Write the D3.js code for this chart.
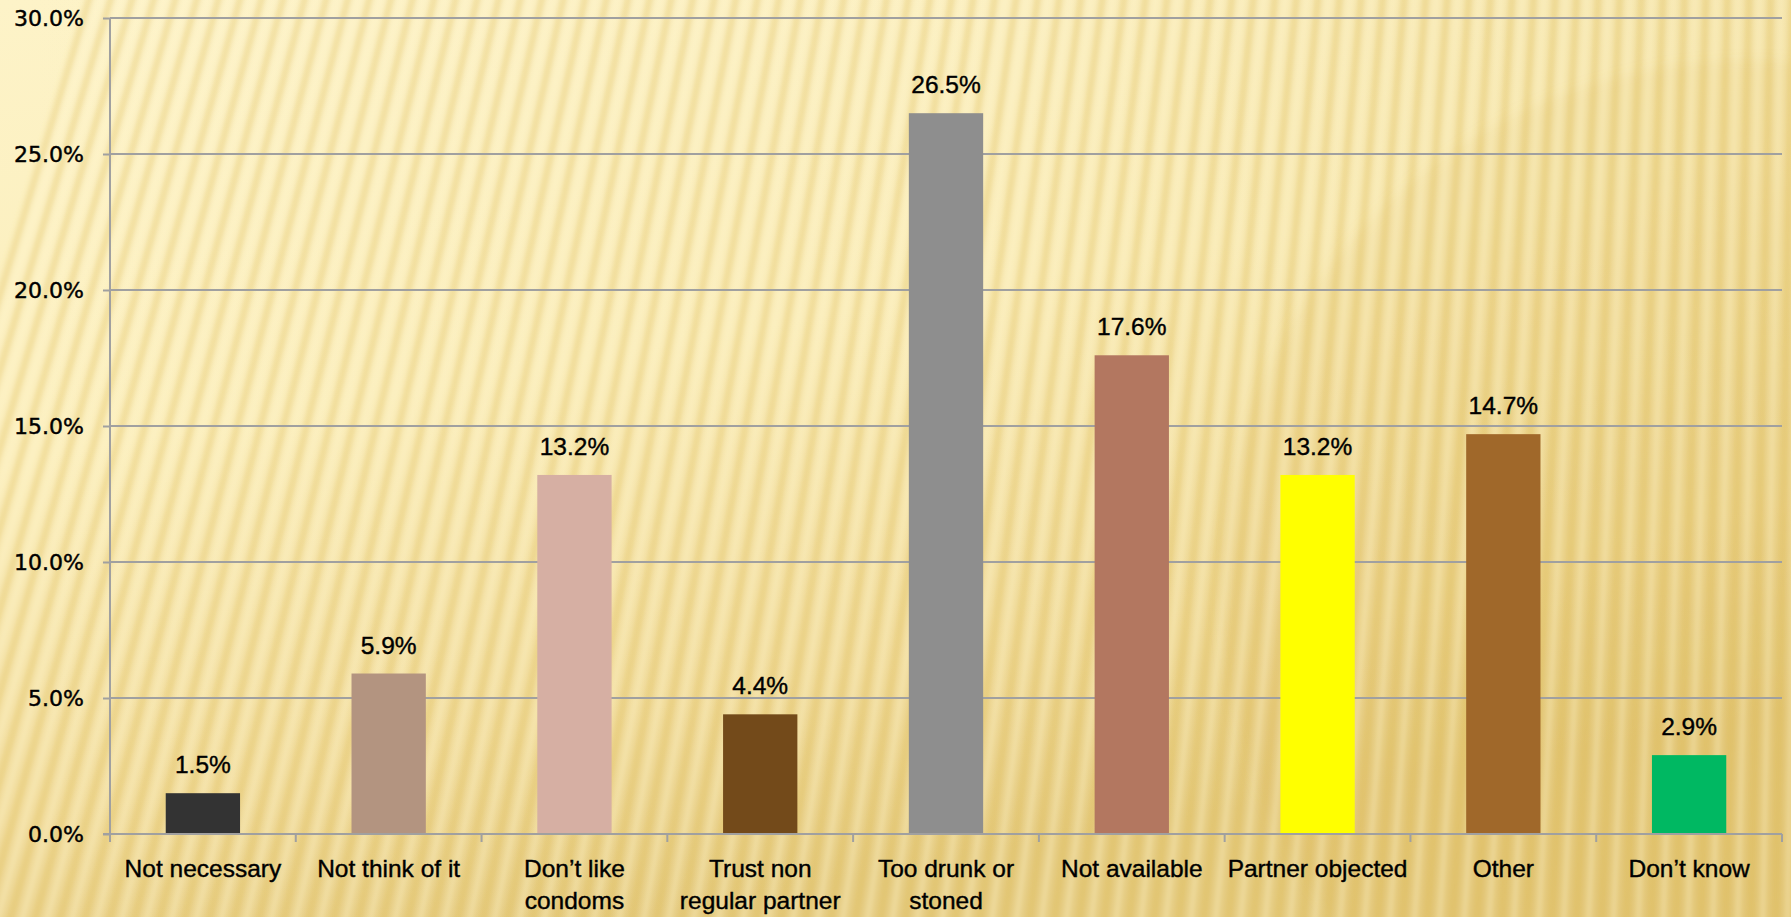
<!DOCTYPE html>
<html>
<head>
<meta charset="utf-8">
<script src="https://cdn.jsdelivr.net/npm/d3@7"></script>
<style>
  html, body { margin: 0; padding: 0; overflow: hidden; background: #f8e9b0; }
  svg { display: block; }
</style>
</head>
<body>
<svg id="chart" width="1791" height="917"></svg>
<script>
// ---- data ----
const categories = [
  "Not necessary",
  "Not think of it",
  "Don\u2019t like\ncondoms",
  "Trust non\nregular partner",
  "Too drunk or\nstoned",
  "Not available",
  "Partner objected",
  "Other",
  "Don\u2019t know"
];
const values = [0.015, 0.059, 0.132, 0.044, 0.265, 0.176, 0.132, 0.147, 0.029];
const barColors = ["#333333", "#b39480", "#d6afa3", "#734a1a", "#8e8e8e", "#b37760", "#ffff00", "#a0682a", "#00b862"];
const yTicks = [0, 0.05, 0.10, 0.15, 0.20, 0.25, 0.30];

// ---- layout ----
const W = 1791, H = 917;
const margin = { left: 110, right: 9, top: 18, bottom: 83 };
const svg = d3.select("#chart");
const defs = svg.append("defs");

// background gradient
const bg = defs.append("linearGradient").attr("id", "bg")
  .attr("x1", "0").attr("y1", "0").attr("x2", "0.35").attr("y2", "1");
bg.append("stop").attr("offset", "0").attr("stop-color", "#fdf3c8");
bg.append("stop").attr("offset", "0.45").attr("stop-color", "#fbeebb");
bg.append("stop").attr("offset", "0.8").attr("stop-color", "#f1dc9c");
bg.append("stop").attr("offset", "1").attr("stop-color", "#e6cd84");
svg.append("rect").attr("width", W).attr("height", H).attr("fill", "url(#bg)");

// right side darkening
const rg = defs.append("linearGradient").attr("id", "rg")
  .attr("x1", "0").attr("y1", "0").attr("x2", "1").attr("y2", "0");
rg.append("stop").attr("offset", "0").attr("stop-color", "#d9b957").attr("stop-opacity", 0);
rg.append("stop").attr("offset", "0.55").attr("stop-color", "#d9b957").attr("stop-opacity", 0.05);
rg.append("stop").attr("offset", "1").attr("stop-color", "#d9b957").attr("stop-opacity", 0.22);
svg.append("rect").attr("width", W).attr("height", H).attr("fill", "url(#rg)");

// circular darker region (upper right)
defs.append("filter").attr("id", "soft").attr("x", "-20%").attr("y", "-20%").attr("width", "140%").attr("height", "140%")
  .append("feGaussianBlur").attr("stdDeviation", 6);
svg.append("circle").attr("cx", 1750).attr("cy", 590).attr("r", 530)
  .attr("fill", "#d8b552").attr("fill-opacity", 0.13).attr("filter", "url(#soft)");

// fan stripes
const blur = defs.append("filter").attr("id", "blur").attr("x", "-10%").attr("y", "-10%").attr("width", "120%").attr("height", "120%");
blur.append("feGaussianBlur").attr("stdDeviation", 2.4);
const focal = [1900, -6000];
const stripeG = svg.append("g").attr("filter", "url(#blur)");
const stripeXs = d3.range(-200, 1900, 25);
function ray(x0) {
  const t2 = (-40 - (H + 40)) / (focal[1] - (H + 40));
  const xTop2 = x0 + (focal[0] - x0) * t2;
  return `M${x0},${H + 40}L${xTop2},-40`;
}
stripeG.selectAll("path.stripe").data(stripeXs).join("path").attr("class", "stripe")
  .attr("d", x0 => ray(x0))
  .attr("stroke", "#d9b54d").attr("stroke-opacity", 0.3).attr("stroke-width", 7).attr("fill", "none");
stripeG.selectAll("path.light").data(stripeXs).join("path").attr("class", "light")
  .attr("d", x0 => ray(x0 + 12))
  .attr("stroke", "#fff6d2").attr("stroke-opacity", 0.35).attr("stroke-width", 6).attr("fill", "none");

// ---- scales ----
const x = d3.scaleBand().domain(categories).range([margin.left, W - margin.right]).padding(0);
const y = d3.scaleLinear().domain([0, 0.30]).range([H - margin.bottom, margin.top]);

const gridColor = "#a0a0a0";

// gridlines
svg.append("g").selectAll("line").data(yTicks.filter(d => d > 0)).join("line")
  .attr("x1", margin.left).attr("x2", W - margin.right)
  .attr("y1", d => y(d)).attr("y2", d => y(d))
  .attr("stroke", gridColor).attr("stroke-width", 2);

// y axis
const yAxis = svg.append("g").attr("transform", `translate(${margin.left},0)`)
  .call(d3.axisLeft(y).tickValues(yTicks).tickFormat(d3.format(".1%")).tickSize(7).tickPadding(19));
yAxis.select(".domain").attr("stroke", gridColor).attr("stroke-width", 2)
  .attr("d", `M0,${y(0.30)}V${y(0)}`);
yAxis.selectAll(".tick line").attr("stroke", gridColor).attr("stroke-width", 2);
yAxis.selectAll(".tick text")
  .attr("font-family", "'DejaVu Sans', Verdana, sans-serif").attr("font-size", 22)
  .attr("fill", "#000").attr("stroke", "#000").attr("stroke-width", 0.45)
  .attr("dy", "0.36em");

// bars
const barW = x.bandwidth() * 0.4;
svg.append("g").selectAll("rect").data(values).join("rect")
  .attr("x", (d, i) => x(categories[i]) + (x.bandwidth() - barW) / 2)
  .attr("y", d => y(d))
  .attr("width", barW)
  .attr("height", d => y(0) - y(d))
  .attr("fill", (d, i) => barColors[i]);

// x axis
const xAxis = svg.append("g").attr("transform", `translate(0,${y(0)})`);
xAxis.append("line").attr("x1", margin.left - 7).attr("x2", W - margin.right)
  .attr("y1", 0).attr("y2", 0).attr("stroke", gridColor).attr("stroke-width", 2);
const boundaries = categories.map(c => x(c)).concat([x(categories[categories.length - 1]) + x.bandwidth()]);
xAxis.selectAll("line.tk").data(boundaries).join("line").attr("class", "tk")
  .attr("x1", d => d).attr("x2", d => d).attr("y1", 0).attr("y2", 8)
  .attr("stroke", gridColor).attr("stroke-width", 2);

// category labels
const labG = svg.append("g");
categories.forEach((c, i) => {
  const t = labG.append("text")
    .attr("x", x(c) + x.bandwidth() / 2)
    .attr("y", y(0) + 43)
    .attr("text-anchor", "middle")
    .attr("font-family", "'Liberation Sans', Arial, sans-serif")
    .attr("font-size", 24.5).attr("fill", "#000")
    .attr("stroke", "#000").attr("stroke-width", 0.4);
  c.split("\n").forEach((line, j) => {
    t.append("tspan").attr("x", x(c) + x.bandwidth() / 2).attr("dy", j === 0 ? 0 : 32).text(line);
  });
});

// value labels
svg.append("g").selectAll("text").data(values).join("text")
  .attr("x", (d, i) => x(categories[i]) + x.bandwidth() / 2)
  .attr("y", d => y(d) - 20)
  .attr("text-anchor", "middle")
  .attr("font-family", "'Liberation Sans', Arial, sans-serif")
  .attr("font-size", 24.5).attr("fill", "#000")
  .attr("stroke", "#000").attr("stroke-width", 0.4)
  .text(d => d3.format(".1%")(d));
</script>
</body>
</html>
